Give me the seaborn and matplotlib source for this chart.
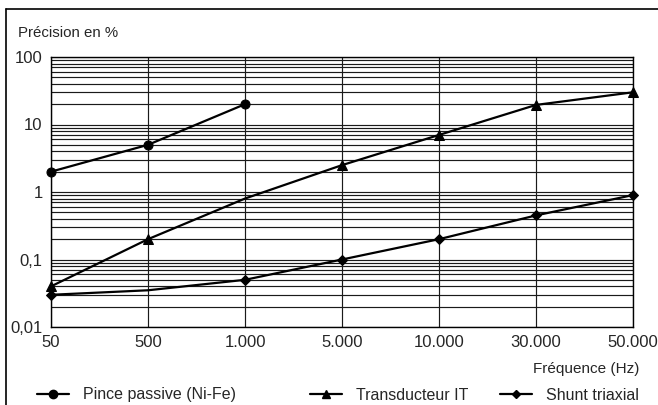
import numpy as np
import pandas as pd
import matplotlib
matplotlib.use("Agg")
import matplotlib.pyplot as plt
import seaborn as sns
from matplotlib.lines import Line2D
from matplotlib.ticker import FixedLocator, LogLocator, NullFormatter

# Données
frequences = ["50", "500", "1.000", "5.000", "10.000", "30.000", "50.000"]
pince = [2, 5, 20, np.nan, np.nan, np.nan, np.nan]
transducteur = [0.04, 0.2, 0.8, 2.5, 7, 19.5, 30]
shunt = [0.03, 0.035, 0.05, 0.1, 0.2, 0.45, 0.9]
# points avec marqueur (les autres sont seulement sur la courbe)
marques_pince = [0, 1, 2]
marques_transducteur = [0, 1, 3, 4, 5, 6]
marques_shunt = [0, 2, 3, 4, 5, 6]

series = ["Pince passive (Ni-Fe)", "Transducteur IT", "Shunt triaxial"]
marqueurs = {"Pince passive (Ni-Fe)": "o", "Transducteur IT": "^", "Shunt triaxial": "D"}
tailles = {"Pince passive (Ni-Fe)": 6.5, "Transducteur IT": 6.5, "Shunt triaxial": 4.8}

df = pd.DataFrame({
    "x": list(range(len(frequences))) * 3,
    "valeur": pince + transducteur + shunt,
    "serie": np.repeat(series, len(frequences)),
})

sns.set_style("white")
plt.rcParams["font.family"] = ["Liberation Sans", "DejaVu Sans"]

fig = plt.figure(figsize=(6.58, 4.05), dpi=100)
ax = fig.add_axes([51 / 658, 1 - 327 / 405, (633 - 51) / 658, (327 - 57) / 405])

ax.set_yscale("log")
ax.set_ylim(0.01, 100)
ax.set_xlim(0, len(frequences) - 1)

# grille
ax.yaxis.set_major_locator(LogLocator(base=10, numticks=10))
ax.yaxis.set_minor_locator(LogLocator(base=10, subs=np.arange(2, 10), numticks=20))
ax.yaxis.set_minor_formatter(NullFormatter())
ax.grid(True, which="both", axis="y", color="#1a1a1a", linewidth=0.85)
ax.xaxis.set_major_locator(FixedLocator(range(len(frequences))))
ax.grid(True, which="major", axis="x", color="#1a1a1a", linewidth=0.85)
ax.set_axisbelow(True)

marques = {"Pince passive (Ni-Fe)": marques_pince,
           "Transducteur IT": marques_transducteur,
           "Shunt triaxial": marques_shunt}
for s in series:
    d = df[df["serie"] == s].dropna()
    sns.lineplot(data=d, x="x", y="valeur", ax=ax, color="black", linewidth=1.6,
                 marker=marqueurs[s], markersize=tailles[s], markevery=marques[s],
                 markeredgecolor="black", legend=False, clip_on=False, zorder=5)

ax.set_xticks(range(len(frequences)))
ax.set_xticklabels(frequences, fontsize=12)
ax.set_yticks([0.01, 0.1, 1, 10, 100])
ax.set_yticklabels(["0,01", "0,1", "1", "10", "100"], fontsize=12)
ax.tick_params(axis="both", which="major", length=4, width=0.8, color="black", pad=2)
ax.tick_params(axis="y", which="minor", length=0)
ax.set_xlabel("")
ax.set_ylabel("")
for sp in ax.spines.values():
    sp.set_color("black")
    sp.set_linewidth(1.0)

fig.text(18 / 658, 1 - 33 / 405, "Précision en %", fontsize=10.8, va="center", ha="left")
fig.text(639 / 658, 1 - 369 / 405, "Fréquence (Hz)", fontsize=11, va="center", ha="right")

# légende en bas, trois entrées placées séparément
positions = [37, 310, 500]
for s, px in zip(series, positions):
    h = Line2D([], [], color="black", linewidth=1.6, marker=marqueurs[s],
               markersize=tailles[s] - 0.5)
    fig.legend([h], [s], loc="center left", bbox_to_anchor=(px / 658, 1 - 395 / 405),
               frameon=False, fontsize=11.5, handlelength=2.0, handletextpad=0.9,
               borderpad=0, borderaxespad=0)

# cadre autour de la figure
fig.add_artist(Line2D([5.5 / 658, 5.5 / 658], [0, 1 - 9 / 405], color="black",
                      linewidth=1.2, transform=fig.transFigure))
fig.add_artist(Line2D([5.5 / 658, 1], [1 - 9 / 405, 1 - 9 / 405], color="black",
                      linewidth=1.2, transform=fig.transFigure))

fig.savefig("out.png", dpi=100)
